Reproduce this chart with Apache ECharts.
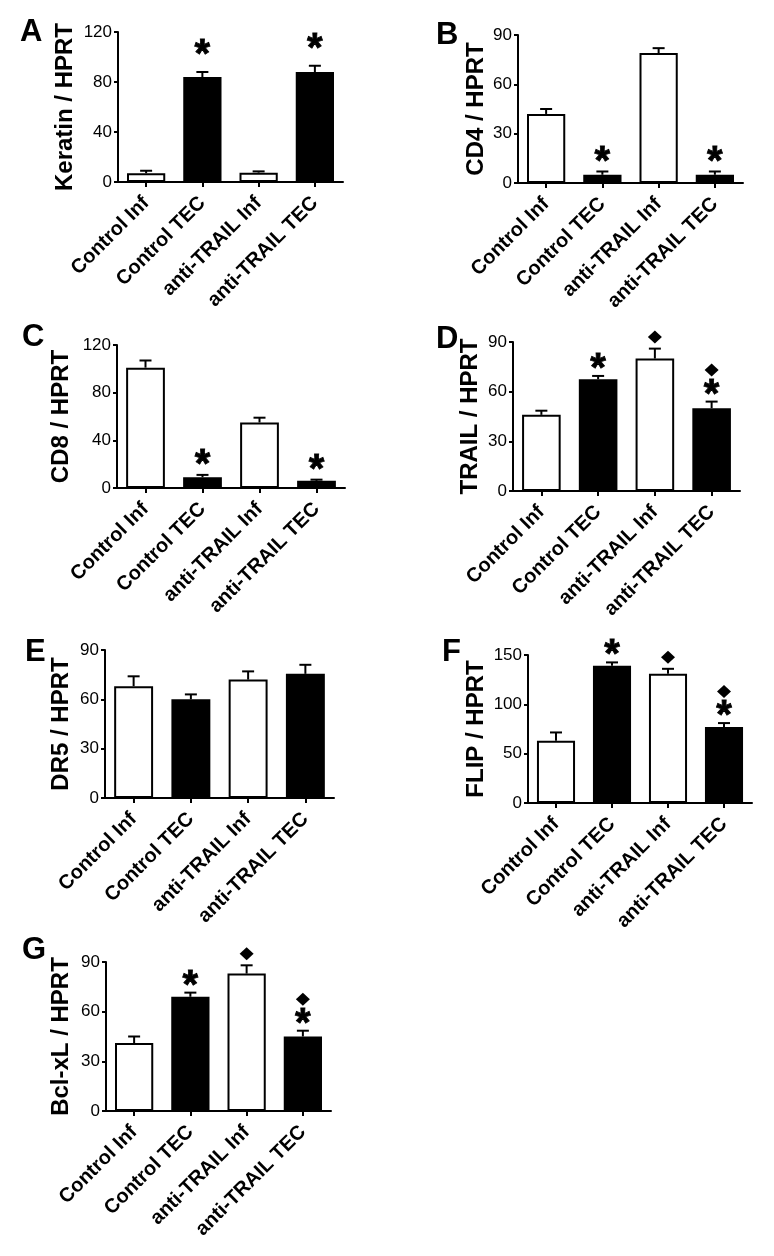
<!DOCTYPE html>
<html>
<head>
<meta charset="utf-8">
<script src="https://cdn.jsdelivr.net/npm/echarts@6/dist/echarts.min.js"></script>
<style>
html,body{margin:0;padding:0;background:#fff;}
#chart{width:774px;height:1256px;}
</style>
</head>
<body>
<div id="chart"></div>
<script>
// ---- data ----
const categories = ['Control Inf', 'Control TEC', 'anti-TRAIL Inf', 'anti-TRAIL TEC'];
const barFills = ['#ffffff', '#000000', '#ffffff', '#000000'];

const keratinMean = [7, 84, 7.5, 88];
const keratinErr  = [2, 4, 1, 5];
const keratinMark = ['', '*', '', '*'];

const cd4Mean = [42, 5, 79, 5];
const cd4Err  = [3, 2, 3, 2];
const cd4Mark = ['', '*', '', '*'];

const cd8Mean = [101, 9, 55, 6];
const cd8Err  = [6, 2, 4, 1];
const cd8Mark = ['', '*', '', '*'];

const trailMean = [46, 67.5, 80, 50];
const trailErr  = [2.5, 2, 6, 4];
const trailMark = ['', '*', '◆', '*◆'];

const dr5Mean = [68, 60, 72, 75.5];
const dr5Err  = [6, 3, 5, 5.5];
const dr5Mark = ['', '', '', ''];

const flipMean = [63, 139, 131, 77];
const flipErr  = [8.5, 3.5, 5, 4];
const flipMark = ['', '*', '◆', '*◆'];

const bclMean = [41, 69, 83, 45];
const bclErr  = [4, 2.5, 5, 3.5];
const bclMark = ['', '*', '◆', '*◆'];

const panelLetters = ['A', 'B', 'C', 'D', 'E', 'F', 'G'];
const yNames = ['Keratin / HPRT', 'CD4 / HPRT', 'CD8 / HPRT', 'TRAIL / HPRT', 'DR5 / HPRT', 'FLIP / HPRT', 'Bcl-xL / HPRT'];
const yMax = [120, 90, 120, 90, 90, 150, 90];
const yStep = [40, 30, 40, 30, 30, 50, 30];

// ---- layout (style) ----
const panels = [
  {mean: keratinMean, err: keratinErr, mark: keratinMark, left: 118, right: 343, top: 32,  bottom: 182, nameGap: 41, markGap: 15, letter: [20, 17]},
  {mean: cd4Mean,     err: cd4Err,     mark: cd4Mark,     left: 518, right: 743, top: 35,  bottom: 183, nameGap: 30, markGap: 8,  letter: [436, 20]},
  {mean: cd8Mean,     err: cd8Err,     mark: cd8Mark,     left: 117, right: 345, top: 345, bottom: 488, nameGap: 44, markGap: 8,  letter: [22, 322]},
  {mean: trailMean,   err: trailErr,   mark: trailMark,   left: 513, right: 740, top: 342, bottom: 491, nameGap: 31, markGap: 5,  letter: [436, 324]},
  {mean: dr5Mean,     err: dr5Err,     mark: dr5Mark,     left: 105, right: 334, top: 650, bottom: 798, nameGap: 32, markGap: 6,  letter: [25, 637]},
  {mean: flipMean,    err: flipErr,    mark: flipMark,    left: 528, right: 752, top: 655, bottom: 803, nameGap: 40, markGap: 5,  letter: [442, 637]},
  {mean: bclMean,     err: bclErr,     mark: bclMark,     left: 106, right: 331, top: 962, bottom: 1111, nameGap: 33, markGap: 5, letter: [22, 935]}
];

const W = 774, H = 1256;
const FONT = '"Liberation Sans", Arial, Helvetica, sans-serif';

const grid = [], xAxis = [], yAxis = [], series = [], graphic = [];

panels.forEach((p, k) => {
  grid.push({left: p.left, width: p.right - p.left, top: p.top, height: p.bottom - p.top, containLabel: false});
  xAxis.push({
    gridIndex: k, type: 'category', data: categories,
    axisLine: {show: true, lineStyle: {color: '#000', width: 2}},
    axisTick: {show: true, alignWithLabel: true, length: 5, lineStyle: {color: '#000', width: 2}},
    axisLabel: {rotate: 45, margin: 18, color: '#000', fontFamily: FONT, fontWeight: 'bold', fontSize: 20, interval: 0},
    splitLine: {show: false}
  });
  yAxis.push({
    gridIndex: k, type: 'value', min: 0, max: yMax[k], interval: yStep[k],
    name: yNames[k], nameLocation: 'middle', nameRotate: 90, nameGap: p.nameGap,
    nameTextStyle: {color: '#000', fontFamily: FONT, fontWeight: 'bold', fontSize: 24},
    axisLine: {show: true, lineStyle: {color: '#000', width: 2}},
    axisTick: {show: true, length: 4, lineStyle: {color: '#000', width: 2}},
    axisLabel: {margin: 6, color: '#000', fontFamily: FONT, fontSize: 17},
    splitLine: {show: false}
  });
  series.push({
    type: 'bar', xAxisIndex: k, yAxisIndex: k, barWidth: '68%',
    data: p.mean.map((v, i) => ({value: v, itemStyle: {color: barFills[i], borderColor: '#000', borderWidth: 2}})),
    z: 3, silent: true, animation: false
  });
  const gap = p.markGap;
  series.push({
    type: 'custom', xAxisIndex: k, yAxisIndex: k, z: 2, silent: true, animation: false,
    data: p.mean.map((v, i) => [i, v, p.err[i]]),
    renderItem: function (params, api) {
      const i = api.value(0), v = api.value(1), e = api.value(2);
      const mk = p.mark[params.dataIndex];
      const b = api.coord([i, v]);
      const t = api.coord([i, v + e]);
      const cap = 12;
      const ch = [
        {type: 'line', shape: {x1: b[0], y1: b[1], x2: t[0], y2: t[1]}, style: {stroke: '#000', lineWidth: 2}},
        {type: 'line', shape: {x1: t[0] - cap / 2, y1: t[1], x2: t[0] + cap / 2, y2: t[1]}, style: {stroke: '#000', lineWidth: 2}}
      ];
      let y = t[1] - gap;  // bottom of the next glyph
      if (mk.indexOf('*') >= 0) {
        ch.push({type: 'text', x: t[0], y: y + 19, style: {text: '*', fill: '#000', stroke: '#000', lineWidth: 0.8, font: 'bold 40px ' + FONT, align: 'center', verticalAlign: 'bottom'}});
        y -= 20;
      }
      if (mk.indexOf('◆') >= 0) {
        const dx = 7, dy = 6.5;
        ch.push({type: 'polygon', shape: {points: [[t[0], y - 2 * dy], [t[0] + dx, y - dy], [t[0], y], [t[0] - dx, y - dy]]}, style: {fill: '#000'}});
      }
      return {type: 'group', children: ch};
    }
  });
  graphic.push({type: 'text', left: p.letter[0], top: p.letter[1], style: {text: panelLetters[k], fill: '#000', font: 'bold 31px ' + FONT}});
});

const chart = echarts.init(document.getElementById('chart'), null, {width: W, height: H, renderer: 'canvas'});
chart.setOption({backgroundColor: '#fff', animation: false, grid, xAxis, yAxis, series, graphic});
</script>
</body>
</html>
